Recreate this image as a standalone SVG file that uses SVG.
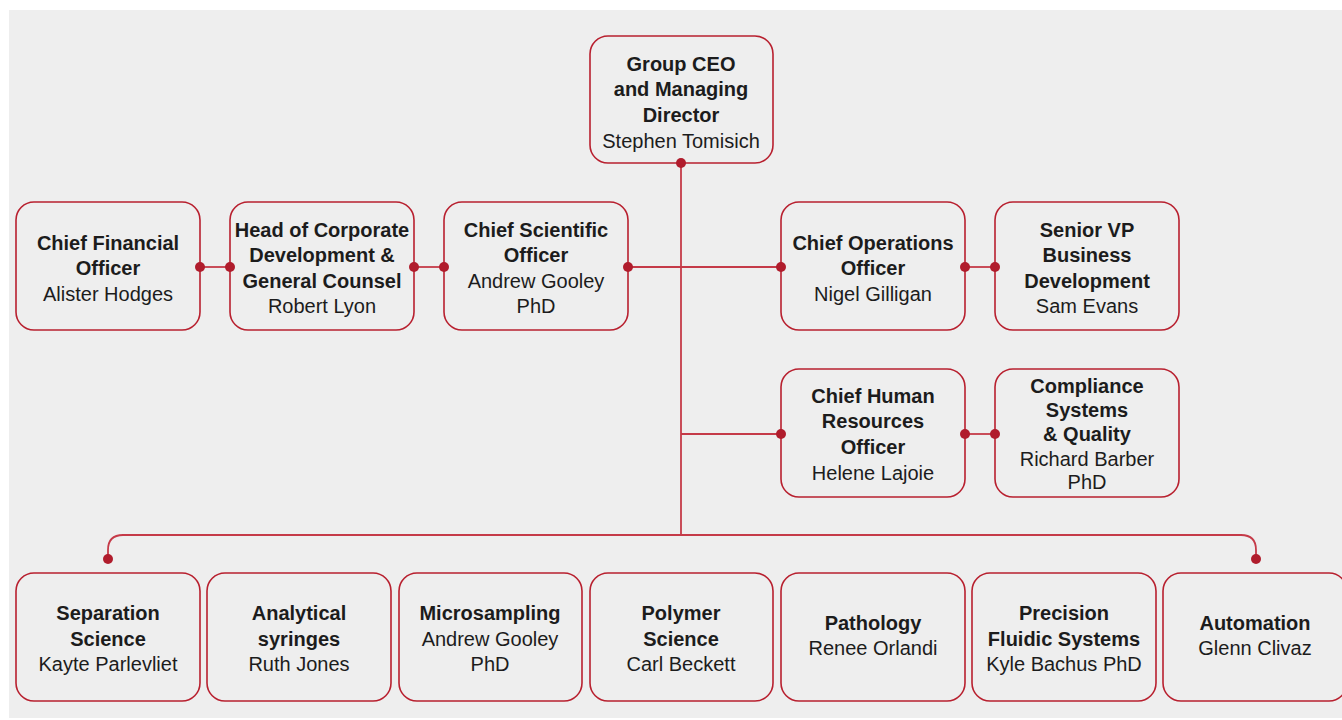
<svg xmlns="http://www.w3.org/2000/svg" width="1342" height="720" viewBox="0 0 1342 720">
<style>
.box{fill:#eeeeee;stroke:#b8202f;stroke-width:1.6}
.ln{fill:none;stroke:#c53a48;stroke-width:1.8}
.dot{fill:#b01c2c}
text{font-family:"Liberation Sans",Arial,sans-serif;font-size:20px;fill:#1c1c1c;text-anchor:middle}
.b{font-weight:bold}
</style>
<rect x="0" y="0" width="1342" height="720" fill="#ffffff"/>
<rect x="9" y="10" width="1333" height="708" fill="#eeeeee"/>
<g id="ceo"><rect class="box" x="590" y="36" width="183" height="127" rx="18"/>
<text x="681" y="71" class="b">Group CEO</text><text x="681" y="96" class="b">and Managing</text><text x="681" y="122" class="b">Director</text><text x="681" y="148">Stephen Tomisich</text></g>
<g id="cfo"><rect class="box" x="16" y="202" width="184" height="128" rx="18"/>
<text x="108" y="250" class="b">Chief Financial</text><text x="108" y="275" class="b">Officer</text><text x="108" y="301">Alister Hodges</text></g>
<g id="corpdev"><rect class="box" x="230" y="202" width="184" height="128" rx="18"/>
<text x="322" y="237" class="b">Head of Corporate</text><text x="322" y="262" class="b">Development &amp;</text><text x="322" y="288" class="b">General Counsel</text><text x="322" y="313">Robert Lyon</text></g>
<g id="cso"><rect class="box" x="444" y="202" width="184" height="128" rx="18"/>
<text x="536" y="237" class="b">Chief Scientific</text><text x="536" y="262" class="b">Officer</text><text x="536" y="288">Andrew Gooley</text><text x="536" y="313">PhD</text></g>
<g id="coo"><rect class="box" x="781" y="202" width="184" height="128" rx="18"/>
<text x="873" y="250" class="b">Chief Operations</text><text x="873" y="275" class="b">Officer</text><text x="873" y="301">Nigel Gilligan</text></g>
<g id="svp"><rect class="box" x="995" y="202" width="184" height="128" rx="18"/>
<text x="1087" y="237" class="b">Senior VP</text><text x="1087" y="262" class="b">Business</text><text x="1087" y="288" class="b">Development</text><text x="1087" y="313">Sam Evans</text></g>
<g id="chro"><rect class="box" x="781" y="369" width="184" height="128" rx="18"/>
<text x="873" y="403" class="b">Chief Human</text><text x="873" y="428" class="b">Resources</text><text x="873" y="454" class="b">Officer</text><text x="873" y="480">Helene Lajoie</text></g>
<g id="compliance"><rect class="box" x="995" y="369" width="184" height="128" rx="18"/>
<text x="1087" y="393" class="b">Compliance</text><text x="1087" y="417" class="b">Systems</text><text x="1087" y="441" class="b">&amp; Quality</text><text x="1087" y="466">Richard Barber</text><text x="1087" y="489">PhD</text></g>
<g id="separation"><rect class="box" x="16" y="573" width="184" height="128" rx="18"/>
<text x="108" y="620" class="b">Separation</text><text x="108" y="646" class="b">Science</text><text x="108" y="671">Kayte Parlevliet</text></g>
<g id="syringes"><rect class="box" x="207" y="573" width="184" height="128" rx="18"/>
<text x="299" y="620" class="b">Analytical</text><text x="299" y="646" class="b">syringes</text><text x="299" y="671">Ruth Jones</text></g>
<g id="microsampling"><rect class="box" x="399" y="573" width="183" height="128" rx="18"/>
<text x="490" y="620" class="b">Microsampling</text><text x="490" y="646">Andrew Gooley</text><text x="490" y="671">PhD</text></g>
<g id="polymer"><rect class="box" x="590" y="573" width="183" height="128" rx="18"/>
<text x="681" y="620" class="b">Polymer</text><text x="681" y="646" class="b">Science</text><text x="681" y="671">Carl Beckett</text></g>
<g id="pathology"><rect class="box" x="781" y="573" width="184" height="128" rx="18"/>
<text x="873" y="630" class="b">Pathology</text><text x="873" y="655">Renee Orlandi</text></g>
<g id="fluidic"><rect class="box" x="972" y="573" width="184" height="128" rx="18"/>
<text x="1064" y="620" class="b">Precision</text><text x="1064" y="646" class="b">Fluidic Systems</text><text x="1064" y="671">Kyle Bachus PhD</text></g>
<g id="automation"><rect class="box" x="1163" y="573" width="184" height="128" rx="18"/>
<text x="1255" y="630" class="b">Automation</text><text x="1255" y="655">Glenn Clivaz</text></g>
<g id="connectors">
<path class="ln" d="M681,163 V535"/>
<path class="ln" d="M628,267 H781"/>
<path class="ln" d="M200,267 H230"/>
<path class="ln" d="M414,267 H444"/>
<path class="ln" d="M965,267 H995"/>
<path class="ln" d="M681,434 H781"/>
<path class="ln" d="M965,434 H995"/>
<path class="ln" d="M108,559 V550 Q108,535 123,535 H1241 Q1256,535 1256,550 V559"/>
<circle class="dot" cx="681" cy="163" r="5"/>
<circle class="dot" cx="200" cy="267" r="5"/>
<circle class="dot" cx="230" cy="267" r="5"/>
<circle class="dot" cx="414" cy="267" r="5"/>
<circle class="dot" cx="444" cy="267" r="5"/>
<circle class="dot" cx="628" cy="267" r="5"/>
<circle class="dot" cx="781" cy="267" r="5"/>
<circle class="dot" cx="965" cy="267" r="5"/>
<circle class="dot" cx="995" cy="267" r="5"/>
<circle class="dot" cx="781" cy="434" r="5"/>
<circle class="dot" cx="965" cy="434" r="5"/>
<circle class="dot" cx="995" cy="434" r="5"/>
<circle class="dot" cx="108" cy="559" r="5"/>
<circle class="dot" cx="1256" cy="559" r="5"/>
</g>
</svg>
